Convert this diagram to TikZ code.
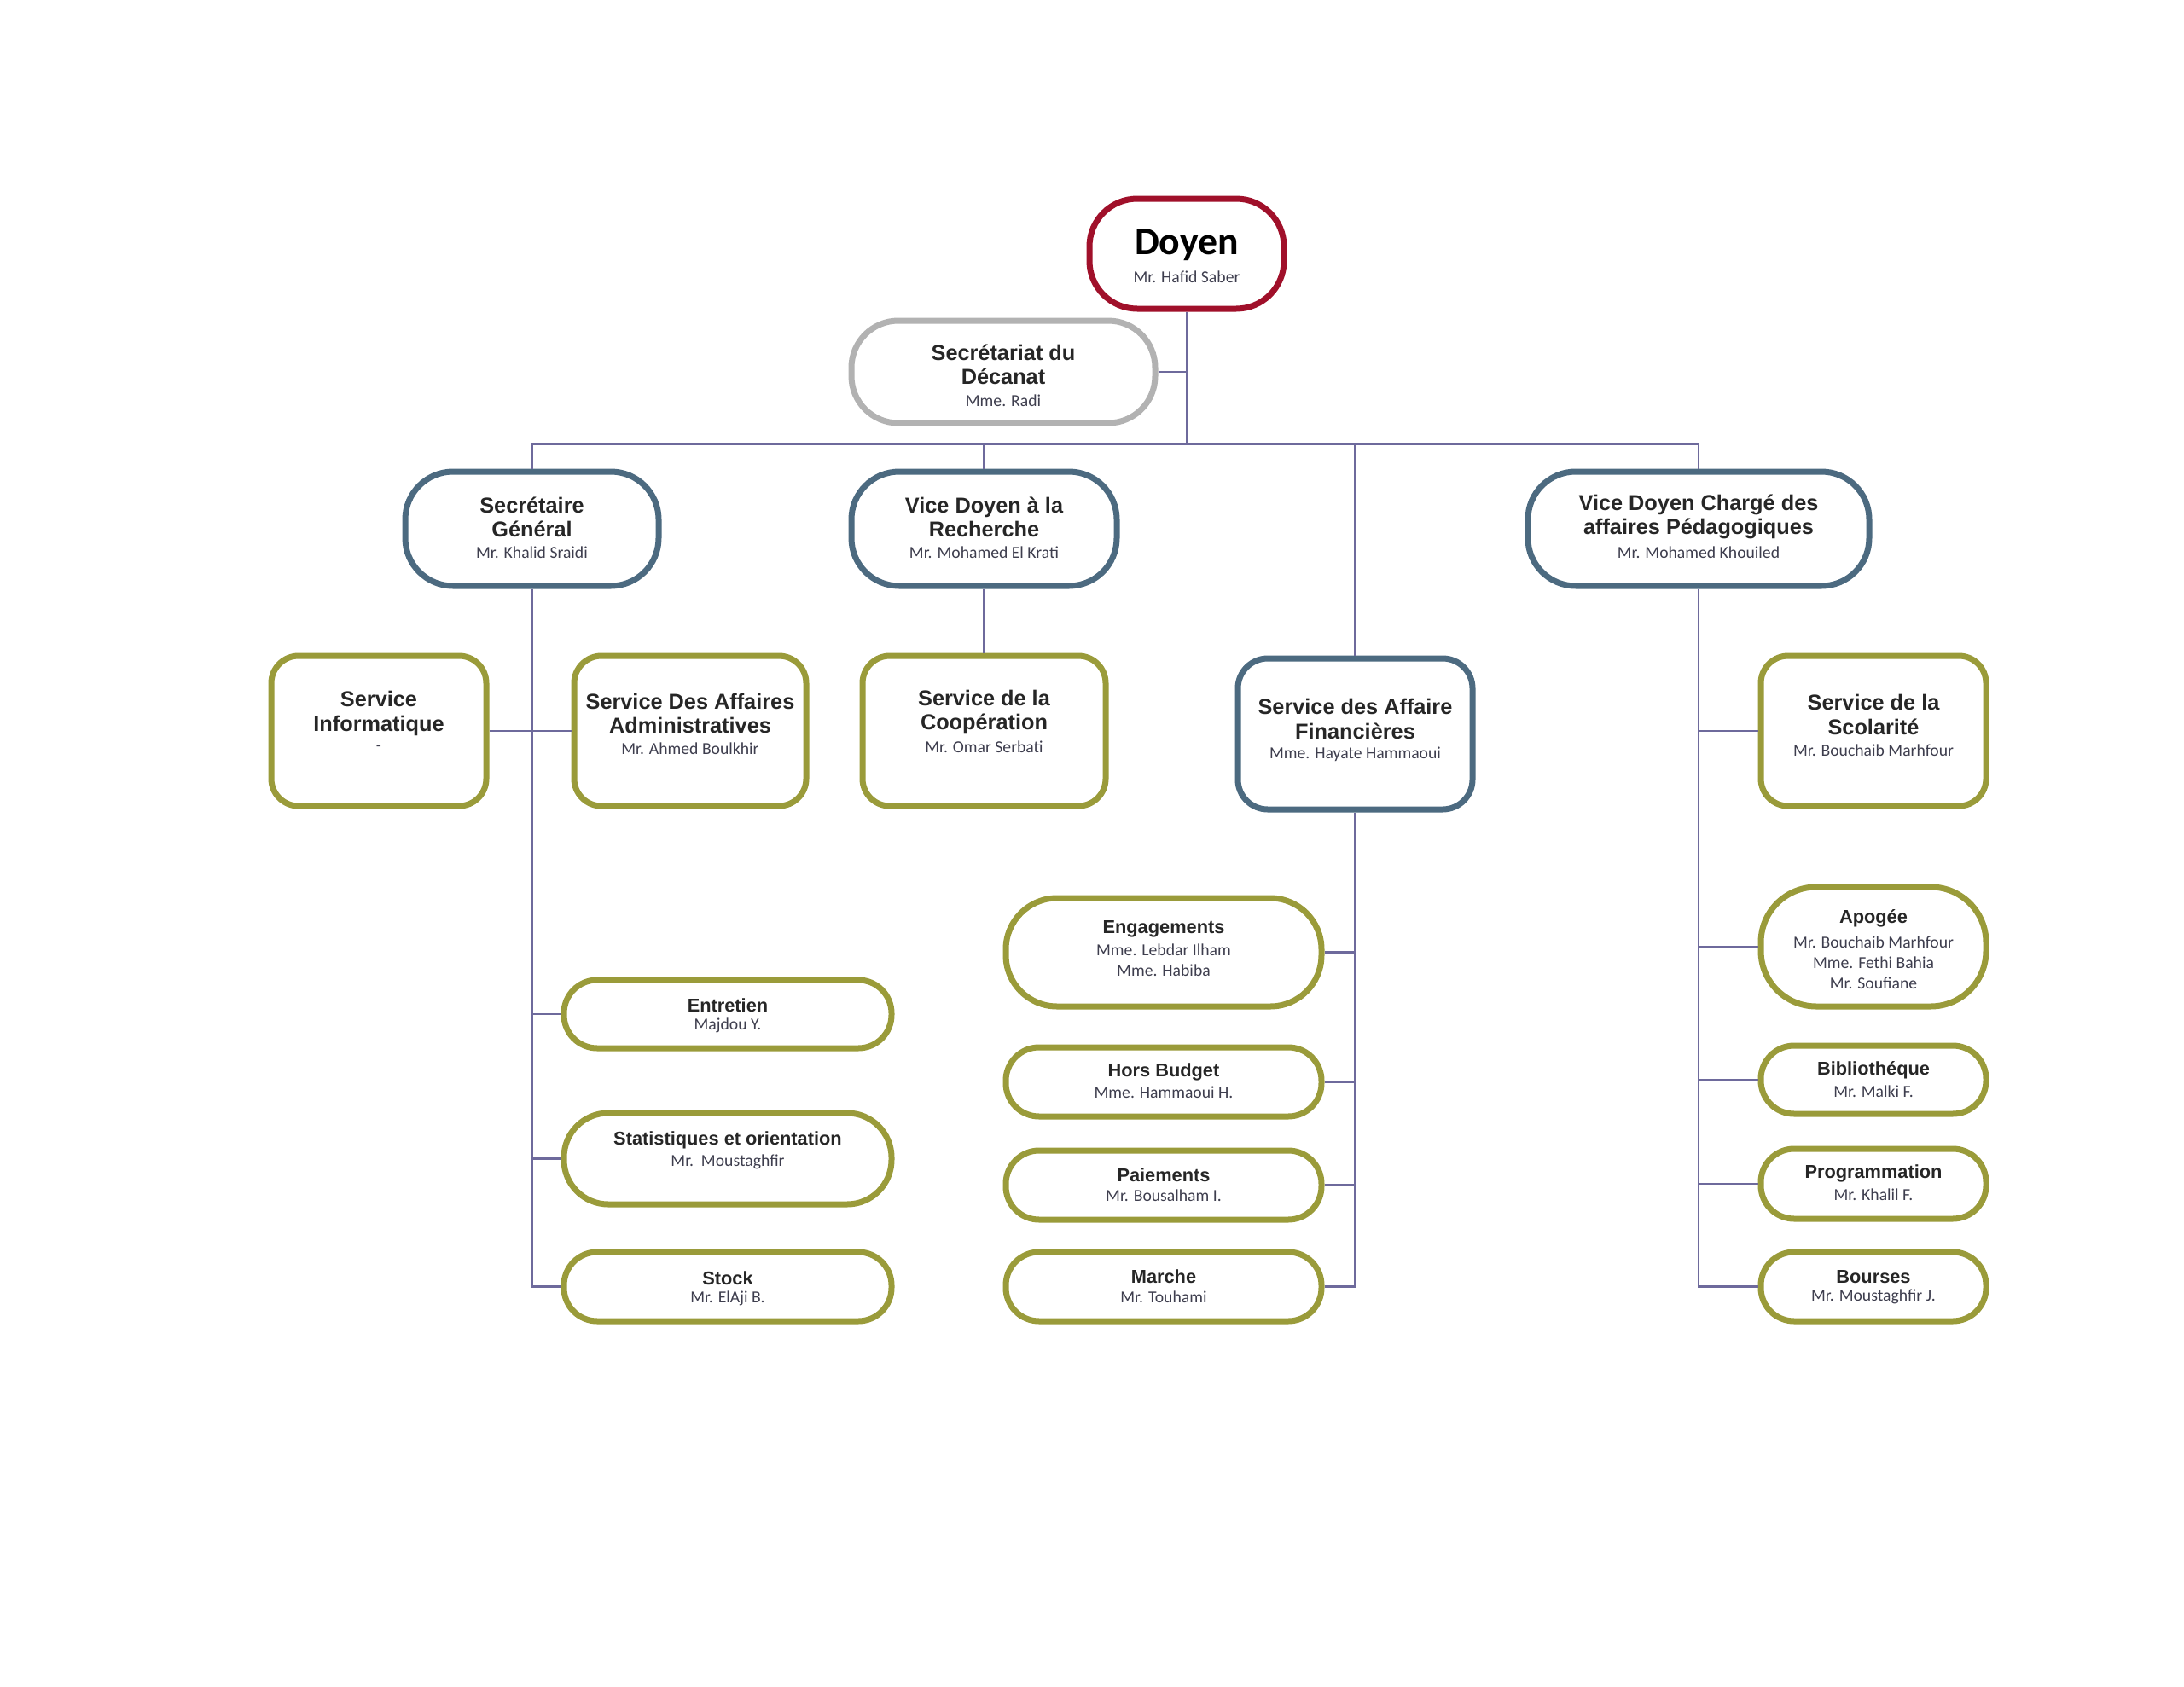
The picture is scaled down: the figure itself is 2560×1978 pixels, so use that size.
\documentclass[tikz,border=0pt]{standalone}
\usepackage{fontspec}
\newfontfamily\arialfam{Liberation Sans}
\newfontfamily\califam{Carlito}
\definecolor{cred}{RGB}{160,16,42}
\definecolor{cgrey}{RGB}{178,178,178}
\definecolor{cblue}{RGB}{76,106,128}
\definecolor{colive}{RGB}{154,155,58}
\definecolor{cline}{RGB}{110,106,156}
\definecolor{tdark}{RGB}{38,38,38}
\definecolor{tname}{RGB}{62,62,78}
\newcommand\DoyF{\califam\bfseries\fontsize{13}{15}\selectfont}
\newcommand\TitU{\arialfam\bfseries\fontsize{7.2}{8}\selectfont}
\newcommand\TitL{\arialfam\bfseries\fontsize{6.2}{7.4}\selectfont}
\newcommand\NmF{\califam\fontsize{5.6}{6.9}\selectfont}
\tikzset{
  obox/.style={draw, line width=0.7mm, fill=white, inner sep=0pt, rectangle},
  redbox/.style={obox, draw=cred},
  greybox/.style={obox, draw=cgrey},
  bluebox/.style={obox, draw=cblue},
  olivebox/.style={obox, draw=colive},
  conn/.style={draw=cline, line width=0.22mm},
  ttl/.style={align=center, inner sep=0pt, text=tdark, yshift=-0.3mm},
  nm/.style={align=center, inner sep=0pt, text=tname, font=\NmF, yshift=-0.25mm},
}
\begin{document}
\begin{tikzpicture}[x=0.1mm,y=-0.1mm]
\useasboundingbox (0,0) rectangle (2560,1978);

% ---- boxes ----
\node[redbox, minimum width=22.8mm, minimum height=12.9mm, rounded corners=5.6mm] (doyen) at (1391,297.5) {};
\node[greybox, minimum width=35.6mm, minimum height=12mm, rounded corners=5.5mm] (secr) at (1176,436) {};
\node[bluebox, minimum width=29.7mm, minimum height=13.4mm, rounded corners=5.6mm] (sg) at (623.5,620) {};
\node[bluebox, minimum width=31.1mm, minimum height=13.4mm, rounded corners=5.6mm] (vdr) at (1153.5,620) {};
\node[bluebox, minimum width=40mm, minimum height=13.4mm, rounded corners=5.6mm] (vdp) at (1991,620) {};
\node[bluebox, minimum width=27.5mm, minimum height=17.7mm, rounded corners=3.5mm] (saf) at (1588.5,860.5) {};
\node[olivebox, minimum width=25.2mm, minimum height=17.6mm, rounded corners=3.2mm] (si) at (444,857) {};
\node[olivebox, minimum width=27.2mm, minimum height=17.6mm, rounded corners=3.2mm] (sdaa) at (809,857) {};
\node[olivebox, minimum width=28.5mm, minimum height=17.6mm, rounded corners=3.2mm] (scoop) at (1153.5,857) {};
\node[olivebox, minimum width=26.4mm, minimum height=17.6mm, rounded corners=3.2mm] (sscol) at (2196,857) {};

\node[olivebox, minimum width=38.4mm, minimum height=8mm, rounded corners=3.9mm] (ent) at (853,1189) {};
\node[olivebox, minimum width=38.4mm, minimum height=10.7mm, rounded corners=5.2mm] (stat) at (853,1358.5) {};
\node[olivebox, minimum width=38.4mm, minimum height=8.1mm, rounded corners=3.9mm] (stock) at (853,1508.5) {};

\node[olivebox, minimum width=37mm, minimum height=12.7mm, rounded corners=6mm] (eng) at (1364,1116.5) {};
\node[olivebox, minimum width=37mm, minimum height=8.1mm, rounded corners=3.9mm] (hors) at (1364,1268.5) {};
\node[olivebox, minimum width=37mm, minimum height=8.1mm, rounded corners=3.9mm] (paie) at (1364,1389.5) {};
\node[olivebox, minimum width=37mm, minimum height=8.1mm, rounded corners=3.9mm] (marche) at (1364,1508.5) {};

\node[olivebox, minimum width=26.4mm, minimum height=14mm, rounded corners=6.5mm] (apo) at (2196,1110) {};
\node[olivebox, minimum width=26.4mm, minimum height=8mm, rounded corners=3.9mm] (bib) at (2196,1266) {};
\node[olivebox, minimum width=26.4mm, minimum height=8.2mm, rounded corners=3.9mm] (prog) at (2196,1388) {};
\node[olivebox, minimum width=26.4mm, minimum height=8.1mm, rounded corners=3.9mm] (bourses) at (2196,1508.5) {};

% ---- connectors ----
\coordinate (bar) at (1391,521);
\draw[conn] (doyen.south) -- (bar);
\draw[conn] (secr.east) -- (secr.east -| bar);
\draw[conn] (sg.north) |- (bar) -| (vdp.north);
\draw[conn] (vdr.north) -- (vdr.north |- bar);
\draw[conn] (saf.north) -- (saf.north |- bar);

\draw[conn] (sg.south) |- (stock.west);
\draw[conn] (si.east) -- (sdaa.west);
\draw[conn] (ent.west) -- (ent.west -| sg.south);
\draw[conn] (stat.west) -- (stat.west -| sg.south);

\draw[conn] (vdr.south) -- (scoop.north);

\draw[conn] (saf.south) |- (marche.east);
\draw[conn] (eng.east) -- (eng.east -| saf.south);
\draw[conn] (hors.east) -- (hors.east -| saf.south);
\draw[conn] (paie.east) -- (paie.east -| saf.south);

\draw[conn] (vdp.south) |- (bourses.west);
\draw[conn] (sscol.west) -- (sscol.west -| vdp.south);
\draw[conn] (apo.west) -- (apo.west -| vdp.south);
\draw[conn] (bib.west) -- (bib.west -| vdp.south);
\draw[conn] (prog.west) -- (prog.west -| vdp.south);

% ---- texts ----
\node[ttl, text=black, font=\DoyF] (doyenT) at (1391,284) {Doyen};
\node[nm] (doyenN) at (1391,322) {Mr. Hafid Saber};

\node[ttl, font=\TitU] (secrT) at (1176,424.5) {Secrétariat du\\Décanat};
\node[nm] (secrN) at (1176,467) {Mme. Radi};

\node[ttl, font=\TitU] (sgT) at (623.5,603) {Secrétaire\\Général};
\node[nm] (sgN) at (623.5,645) {Mr. Khalid Sraidi};

\node[ttl, font=\TitU] (vdrT) at (1153.5,603) {Vice Doyen à la\\Recherche};
\node[nm] (vdrN) at (1153.5,645) {Mr. Mohamed El Krati};

\node[ttl, font=\TitU] (vdpT) at (1991,603) {Vice Doyen Chargé des\\affaires Pédagogiques};
\node[nm] (vdpN) at (1991,645) {Mr. Mohamed Khouiled};

\node[ttl, font=\TitU] (safT) at (1588.5,840) {Service des Affaire\\Financières};
\node[nm] (safN) at (1588.5,882) {Mme. Hayate Hammaoui};

\node[ttl, font=\TitU] (siT) at (444,833.5) {Service\\Informatique};
\node[nm] (siN) at (444,875) {-};

\node[ttl, font=\TitU] (sdaaT) at (809,833.5) {Service Des Affaires\\Administratives};
\node[nm] (sdaaN) at (809,875) {Mr. Ahmed Boulkhir};

\node[ttl, font=\TitU] (scoopT) at (1153.5,832) {Service de la\\Coopération};
\node[nm] (scoopN) at (1153.5,873.5) {Mr. Omar Serbati};

\node[ttl, font=\TitU] (sscolT) at (2196,835) {Service de la\\Scolarité};
\node[nm] (sscolN) at (2196,877) {Mr. Bouchaib Marhfour};

\node[ttl, font=\TitL] (entT) at (853,1175.5) {Entretien};
\node[nm] (entN) at (853,1200) {Majdou Y.};

\node[ttl, font=\TitL] (statT) at (853,1334) {Statistiques et orientation};
\node[nm] (statN) at (853,1360) {Mr.\ \ Moustaghfir};

\node[ttl, font=\TitL] (stockT) at (853,1495.5) {Stock};
\node[nm] (stockN) at (853,1520) {Mr. ElAji B.};

\node[ttl, font=\TitL] (engT) at (1364,1086) {Engagements};
\node[nm] (engN) at (1364,1123) {Mme. Lebdar Ilham\\Mme. Habiba};

\node[ttl, font=\TitL] (horsT) at (1364,1254) {Hors Budget};
\node[nm] (horsN) at (1364,1278) {Mme. Hammaoui H.};

\node[ttl, font=\TitL] (paieT) at (1364,1375) {Paiements};
\node[nm] (paieN) at (1364,1399) {Mr. Bousalham I.};

\node[ttl, font=\TitL] (marcheT) at (1364,1494) {Marche};
\node[nm] (marcheN) at (1364,1518) {Mr. Touhami};

\node[ttl, font=\TitL] (apoT) at (2196,1074) {Apogée};
\node[nm] (apoN) at (2196,1126) {Mr. Bouchaib Marhfour\\Mme. Fethi Bahia\\Mr. Soufiane};

\node[ttl, font=\TitL] (bibT) at (2196,1252) {Bibliothéque};
\node[nm] (bibN) at (2196,1277) {Mr. Malki F.};

\node[ttl, font=\TitL] (progT) at (2196,1373) {Programmation};
\node[nm] (progN) at (2196,1398) {Mr. Khalil F.};

\node[ttl, font=\TitL] (boursesT) at (2196,1494) {Bourses};
\node[nm] (boursesN) at (2196,1518) {Mr. Moustaghfir J.};
\end{tikzpicture}
\end{document}
